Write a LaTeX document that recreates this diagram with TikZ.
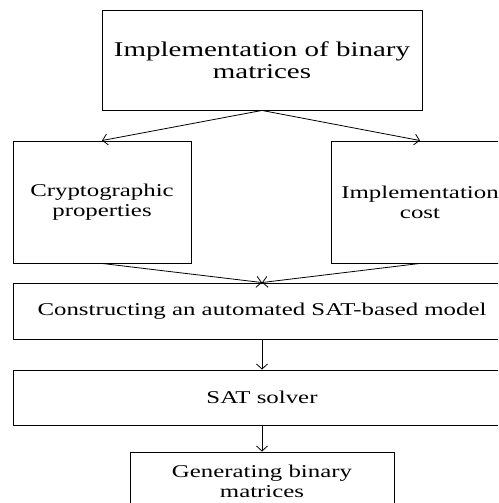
\documentclass[tikz,border=0pt]{standalone}
\usepackage{fontspec}
\setmainfont{Liberation Serif}[FakeStretch=1.38]
\usetikzlibrary{arrows.meta}
\usetikzlibrary{positioning}
\tikzstyle{big_box} = [
    rectangle, 
    draw=black, 
    line width=0.9pt, 
    align=center, 
    inner sep=0pt, 
    font=\fontsize{21}{22}\selectfont
]
\tikzstyle{step_box} = [
    rectangle, 
    draw=black, 
    line width=0.9pt, 
    align=center, 
    inner sep=0pt, 
    font=\fontsize{18}{20}\selectfont
]
\tikzstyle{flow} = [
    line width=0.8pt, 
    -{Straight Barb[length=5pt, width=11pt]}
]

\begin{document}
\begin{tikzpicture}[x=1pt, y=1pt]
\clip (0,0) rectangle (498,503);
\node [big_box, minimum width=320pt, minimum height=100pt] (impl) at (262,443)
    {Implementation of binary\\matrices};
\node [step_box, minimum width=178pt, minimum height=122pt] (crypto) at (102,301)
    {Cryptographic\\properties};
\node [step_box, minimum width=178pt, minimum height=122pt] (cost) at (420,301)
    {Implementation\\cost};
\node [step_box, minimum width=498pt, minimum height=56pt] (model) at (262,192)
    {Constructing an automated SAT-based model};
\node [step_box, minimum width=498pt, minimum height=55pt] (solver) at (262,105.5)
    {SAT solver};
\node [step_box, minimum width=264pt, minimum height=58pt] (gen) at (262,22)
    {Generating binary\\matrices};
% arrows
\draw [flow] (impl.south) -- (crypto.north);
\draw [flow] (impl.south) -- (cost.north);
\draw [flow] (crypto.south) -- (model.north);
\draw [flow] (cost.south) -- (model.north);
\draw [flow] (model) -- (solver);
\draw [flow] (solver) -- (gen);
\end{tikzpicture}
\end{document}
